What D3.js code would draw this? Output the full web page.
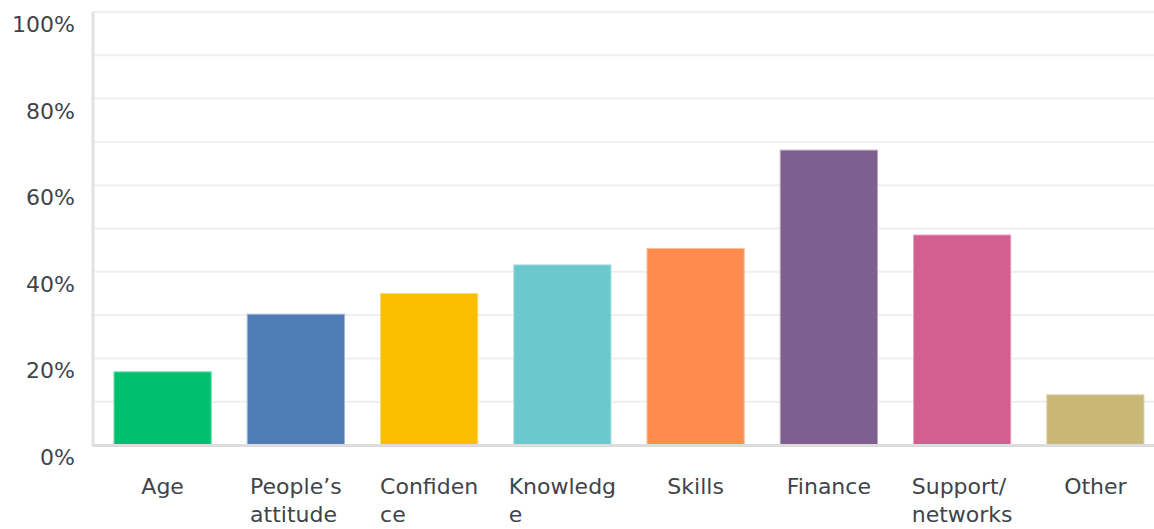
<!DOCTYPE html>
<html>
<head>
<meta charset="utf-8">
<script src="https://cdn.jsdelivr.net/npm/d3@7"></script>
<style>
  html, body { margin: 0; padding: 0; background: #ffffff; }
  svg { display: block; }
  text { font-family: "DejaVu Sans", "Noto Sans", sans-serif; fill: #3f444a; }
</style>
</head>
<body>
<svg id="chart" width="1154" height="529"></svg>
<script>
// Answer categories, with the line breaks used under each bar
const categories = ["Age", "People’s attitude", "Confidence", "Knowledge", "Skills", "Finance", "Support/networks", "Other"];
const categoryLines = [
  ["Age"],
  ["People’s", "attitude"],
  ["Confiden", "ce"],
  ["Knowledg", "e"],
  ["Skills"],
  ["Finance"],
  ["Support/", "networks"],
  ["Other"]
];
// Share of respondents (%)
const values = [16.9, 30.2, 35.0, 41.6, 45.4, 68.1, 48.5, 11.6];
const colors = ["#00bf6f", "#507cb6", "#f9be00", "#6bc8cd", "#ff8b4f", "#7f5f90", "#d25f90", "#c9b777"];
// Axis ticks
const gridTicks = [0, 10, 20, 30, 40, 50, 60, 70, 80, 90, 100];
const labelTicks = [0, 20, 40, 60, 80, 100];

const svg = d3.select("#chart");

const y = d3.scaleLinear().domain([0, 100]).range([445, 12]);
const x = d3.scaleBand()
  .domain(categories)
  .range([96, 1162])
  .paddingInner(0.27)
  .paddingOuter(0.135);

// Horizontal gridlines
svg.append("g")
  .selectAll("line")
  .data(gridTicks.filter(d => d > 0))
  .join("line")
  .attr("x1", 94)
  .attr("x2", 1154)
  .attr("y1", d => y(d))
  .attr("y2", d => y(d))
  .attr("stroke", "#efefef")
  .attr("stroke-width", 2);

// Bars
svg.append("g")
  .selectAll("rect")
  .data(values)
  .join("rect")
  .attr("x", (d, i) => x(categories[i]))
  .attr("width", x.bandwidth())
  .attr("y", d => y(d))
  .attr("height", d => y(0) - y(d))
  .attr("fill", (d, i) => colors[i])
  .attr("stroke", (d, i) => d3.interpolateRgb(colors[i], "#ffffff")(0.45))
  .attr("stroke-width", 1);

// Axis lines
svg.append("line")
  .attr("x1", 93).attr("x2", 93)
  .attr("y1", y(100)).attr("y2", y(0) + 1.5)
  .attr("stroke", "#e1e1e1").attr("stroke-width", 3);
svg.append("line")
  .attr("x1", 93).attr("x2", 1154)
  .attr("y1", y(0) + 0.5).attr("y2", y(0) + 0.5)
  .attr("stroke", "#dcdcdc").attr("stroke-width", 3);

// Y tick labels
svg.append("g")
  .selectAll("text")
  .data(labelTicks)
  .join("text")
  .attr("x", 75)
  .attr("y", d => y(d) + 20)
  .attr("text-anchor", "end")
  .attr("font-size", 22)
  .text(d => d + "%");

// Category labels: block centred under the bar, lines left-aligned
const labels = svg.append("g")
  .selectAll("text")
  .data(categories)
  .join("text")
  .attr("font-size", 22)
  .attr("y", 494);

labels.each(function(c, i) {
  const t = d3.select(this);
  categoryLines[i].forEach((line, k) => {
    t.append("tspan").attr("dy", k === 0 ? 0 : 28).text(line);
  });
  const widths = [];
  t.selectAll("tspan").each(function() { widths.push(this.getComputedTextLength()); });
  const w = d3.max(widths);
  const left = x(c) + x.bandwidth() / 2 - w / 2;
  t.selectAll("tspan").attr("x", left);
});
</script>
</body>
</html>
